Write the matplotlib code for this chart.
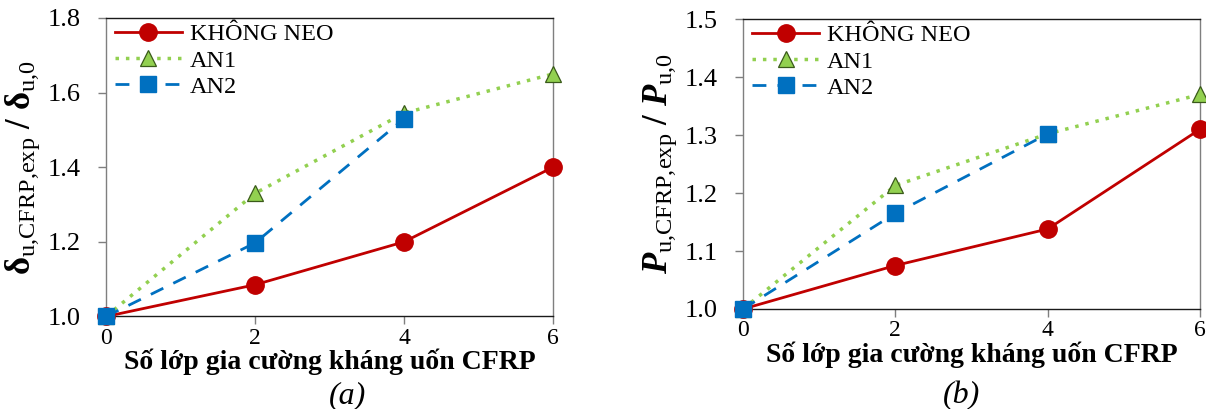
import matplotlib
matplotlib.use("Agg")
import matplotlib.pyplot as plt

layers = [0, 2, 4, 6]
layers_an2 = [0, 2, 4]

# Panel (a): deflection ratio
a_khong_neo = [1.0, 1.085, 1.2, 1.4]
a_an1 = [1.0, 1.33, 1.545, 1.65]
a_an2 = [1.0, 1.197, 1.53]

# Panel (b): load ratio
b_khong_neo = [1.0, 1.075, 1.138, 1.31]
b_an1 = [1.0, 1.213, 1.302, 1.37]
b_an2 = [1.0, 1.165, 1.302]

legend_labels = ["KHÔNG NEO", "AN1", "AN2"]
xlabel = "Số lớp gia cường kháng uốn CFRP"

plt.rcParams['font.family'] = ['Liberation Serif', 'DejaVu Serif']
plt.rcParams['mathtext.fontset'] = 'custom'
plt.rcParams['mathtext.rm'] = 'Liberation Serif'
plt.rcParams['mathtext.it'] = 'Liberation Serif:italic:bold'
plt.rcParams['mathtext.bf'] = 'Liberation Serif:bold'

fig = plt.figure(figsize=(12.06, 4.09), dpi=100)
ax1 = fig.add_axes([0.0879, 0.2262, 0.3706, 0.7298])
ax2 = fig.add_axes([0.6161, 0.2445, 0.3790, 0.709])

red = '#C00000'
green = '#92D050'
blue = '#0070C0'
spine_c = '#7f7f7f'

def draw(ax, kn, an1, an2, ylim, yticks):
    ax.plot(layers, kn, color=red, lw=2, marker='o', ms=12.5, label=legend_labels[0], clip_on=False, zorder=3)
    ax.plot(layers, an1, color=green, lw=2.5, ls=(0, (1, 2)), marker='^', ms=11,
            mfc=green, mec='#3a5a1a', mew=0.9, label=legend_labels[1], clip_on=False, zorder=3)
    ax.plot(layers_an2, an2, color=blue, lw=2, ls=(0, (5, 4)), marker='s', ms=11,
            mfc=blue, mec=blue, label=legend_labels[2], clip_on=False, zorder=4)
    ax.set_xlim(0, 6)
    ax.set_ylim(*ylim)
    ax.set_xticks([0, 2, 4, 6])
    ax.set_yticks(yticks)
    ax.set_yticklabels([f"{v:.1f}" for v in yticks])
    for side, s in ax.spines.items():
        s.set_color('#1a1a1a' if side in ('top', 'bottom') else spine_c)
        s.set_linewidth(1)
    ax.tick_params(axis='both', color=spine_c, length=6, width=1, direction='out')
    ax.tick_params(axis='x', labelsize=17, pad=2)
    ax.tick_params(axis='y', labelsize=19, pad=12)
    ax.set_xlabel(xlabel, fontsize=20, fontweight='bold', labelpad=0)
    ax.legend(loc='upper left', frameon=False, fontsize=17.5, handlelength=2.75,
              numpoints=1, borderaxespad=0.0, labelspacing=0.18, handletextpad=0.33,
              borderpad=0.15, bbox_to_anchor=(0.012, 0.995))

draw(ax1, a_khong_neo, a_an1, a_an2, (1.0, 1.8), [1.0, 1.2, 1.4, 1.6, 1.8])
draw(ax2, b_khong_neo, b_an1, b_an2, (1.0, 1.5), [1.0, 1.1, 1.2, 1.3, 1.4, 1.5])

ax1.set_ylabel(r'$\mathbf{δ}_{\mathrm{u{,}CFRP{,}exp}}$ $\mathbf{/}$ $\mathbf{δ}_{\mathrm{u{,}0}}$', fontsize=25, labelpad=4)
ax2.set_ylabel(r'$\mathit{P}_{\mathrm{u{,}CFRP{,}exp}}$ $\mathbf{/}$ $\mathit{P}_{\mathrm{u{,}0}}$', fontsize=25, labelpad=4)

fig.text(0.288, 0.015, '(a)', fontsize=23, style='italic', ha='center')
fig.text(0.797, 0.015, '(b)', fontsize=23, style='italic', ha='center')

fig.savefig('out.png', dpi=100)
